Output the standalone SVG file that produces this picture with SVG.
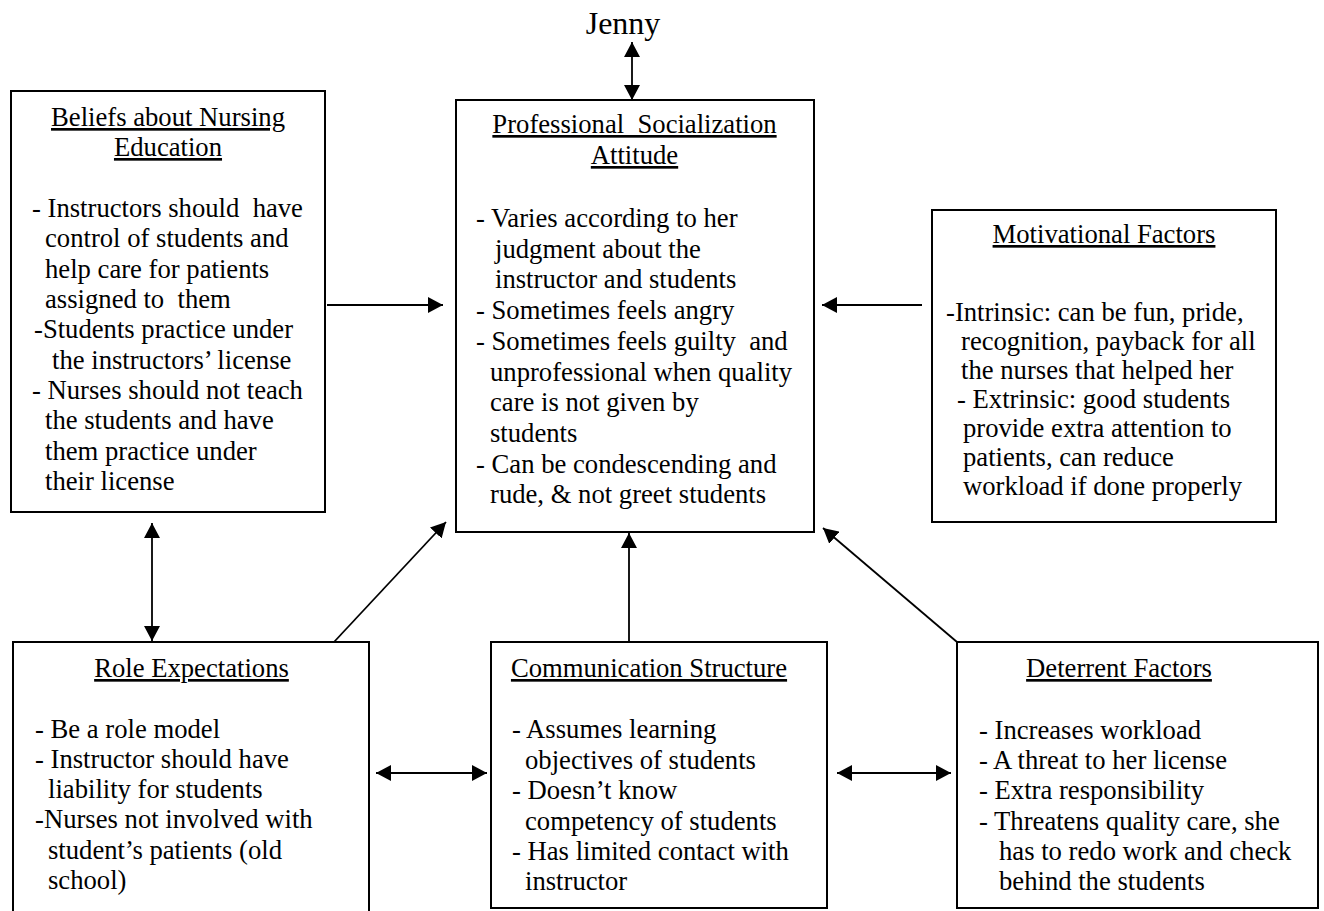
<svg xmlns="http://www.w3.org/2000/svg" width="1324" height="911" viewBox="0 0 1324 911" xml:space="preserve">
  <style>
    .box { fill: #ffffff; stroke: #000000; stroke-width: 2; }
    .t { font-family: "Liberation Serif", "Times New Roman", serif; font-size: 26.67px; fill: #000000; white-space: pre; }
    .h { text-anchor: middle; text-decoration: underline; }
    .top { font-size: 32px; text-anchor: middle; }
    .conn { stroke: #000000; stroke-width: 1.8; fill: none; }
  </style>
  <defs>
    <marker id="arrow" viewBox="0 0 15 16" refX="15" refY="8" markerWidth="15" markerHeight="16" markerUnits="userSpaceOnUse" orient="auto-start-reverse">
      <path d="M0,0 L15,8 L0,16 z" fill="#000000"/>
    </marker>
  </defs>

  <rect width="1324" height="911" fill="#ffffff"/>

  <!-- connectors -->
  <g id="connectors" class="conn">
    <line x1="632" y1="42" x2="632" y2="100" marker-start="url(#arrow)" marker-end="url(#arrow)"/>
    <line x1="327" y1="305" x2="443" y2="305" marker-end="url(#arrow)"/>
    <line x1="922" y1="305" x2="822" y2="305" marker-end="url(#arrow)"/>
    <line x1="152" y1="523" x2="152" y2="641" marker-start="url(#arrow)" marker-end="url(#arrow)"/>
    <line x1="334" y1="642" x2="446" y2="522" marker-end="url(#arrow)"/>
    <line x1="629" y1="642" x2="629" y2="533" marker-end="url(#arrow)"/>
    <line x1="957" y1="642" x2="823" y2="528" marker-end="url(#arrow)"/>
    <line x1="376" y1="773" x2="487" y2="773" marker-start="url(#arrow)" marker-end="url(#arrow)"/>
    <line x1="837" y1="773" x2="951" y2="773" marker-start="url(#arrow)" marker-end="url(#arrow)"/>
  </g>

  <!-- Jenny -->
  <g id="jenny">
    <text class="t top" x="623" y="34">Jenny</text>
  </g>

  <!-- Professional Socialization Attitude -->
  <g id="attitude">
    <rect class="box" x="456" y="100" width="358" height="432"/>
    <text class="t h" x="634.5" y="133">Professional  Socialization</text>
    <text class="t h" x="634.5" y="164">Attitude</text>
    <text class="t" x="476" y="227">- Varies according to her</text>
    <text class="t" x="495" y="258">judgment about the</text>
    <text class="t" x="495" y="288">instructor and students</text>
    <text class="t" x="476" y="319">- Sometimes feels angry</text>
    <text class="t" x="476" y="350">- Sometimes feels guilty  and</text>
    <text class="t" x="490" y="381">unprofessional when quality</text>
    <text class="t" x="490" y="411">care is not given by</text>
    <text class="t" x="490" y="442">students</text>
    <text class="t" x="476" y="473">- Can be condescending and</text>
    <text class="t" x="490" y="503">rude, &amp; not greet students</text>
  </g>

  <!-- Beliefs about Nursing Education -->
  <g id="beliefs">
    <rect class="box" x="11" y="91" width="314" height="421"/>
    <text class="t h" x="168" y="126">Beliefs about Nursing</text>
    <text class="t h" x="168" y="156">Education</text>
    <text class="t" x="32" y="217">- Instructors should  have</text>
    <text class="t" x="45" y="247">control of students and</text>
    <text class="t" x="45" y="278">help care for patients</text>
    <text class="t" x="45" y="308">assigned to  them</text>
    <text class="t" x="34" y="338">-Students practice under</text>
    <text class="t" x="52" y="369">the instructors’ license</text>
    <text class="t" x="32" y="399">- Nurses should not teach</text>
    <text class="t" x="45" y="429">the students and have</text>
    <text class="t" x="45" y="460">them practice under</text>
    <text class="t" x="45" y="490">their license</text>
  </g>

  <!-- Motivational Factors -->
  <g id="motivational">
    <rect class="box" x="932" y="210" width="344" height="312"/>
    <text class="t h" x="1104" y="243">Motivational Factors</text>
    <text class="t" x="946" y="321">-Intrinsic: can be fun, pride,</text>
    <text class="t" x="961" y="350">recognition, payback for all</text>
    <text class="t" x="961" y="379">the nurses that helped her</text>
    <text class="t" x="957" y="408">- Extrinsic: good students</text>
    <text class="t" x="963" y="437">provide extra attention to</text>
    <text class="t" x="963" y="466">patients, can reduce</text>
    <text class="t" x="963" y="495">workload if done properly</text>
  </g>

  <!-- Role Expectations -->
  <g id="role">
    <rect class="box" x="13" y="642" width="356" height="280"/>
    <text class="t h" x="191.5" y="677">Role Expectations</text>
    <text class="t" x="35" y="738">- Be a role model</text>
    <text class="t" x="35" y="768">- Instructor should have</text>
    <text class="t" x="48" y="798">liability for students</text>
    <text class="t" x="35" y="828">-Nurses not involved with</text>
    <text class="t" x="48" y="859">student’s patients (old</text>
    <text class="t" x="48" y="889">school)</text>
  </g>

  <!-- Communication Structure -->
  <g id="communication">
    <rect class="box" x="491" y="642" width="336" height="266"/>
    <text class="t h" x="649" y="677">Communication Structure</text>
    <text class="t" x="512" y="738">- Assumes learning</text>
    <text class="t" x="525" y="769">objectives of students</text>
    <text class="t" x="512" y="799">- Doesn’t know</text>
    <text class="t" x="525" y="830">competency of students</text>
    <text class="t" x="512" y="860">- Has limited contact with</text>
    <text class="t" x="525" y="890">instructor</text>
  </g>

  <!-- Deterrent Factors -->
  <g id="deterrent">
    <rect class="box" x="957" y="642" width="361" height="266"/>
    <text class="t h" x="1119" y="677">Deterrent Factors</text>
    <text class="t" x="979" y="739">- Increases workload</text>
    <text class="t" x="979" y="769">- A threat to her license</text>
    <text class="t" x="979" y="799">- Extra responsibility</text>
    <text class="t" x="979" y="830">- Threatens quality care, she</text>
    <text class="t" x="999" y="860">has to redo work and check</text>
    <text class="t" x="999" y="890">behind the students</text>
  </g>
</svg>
